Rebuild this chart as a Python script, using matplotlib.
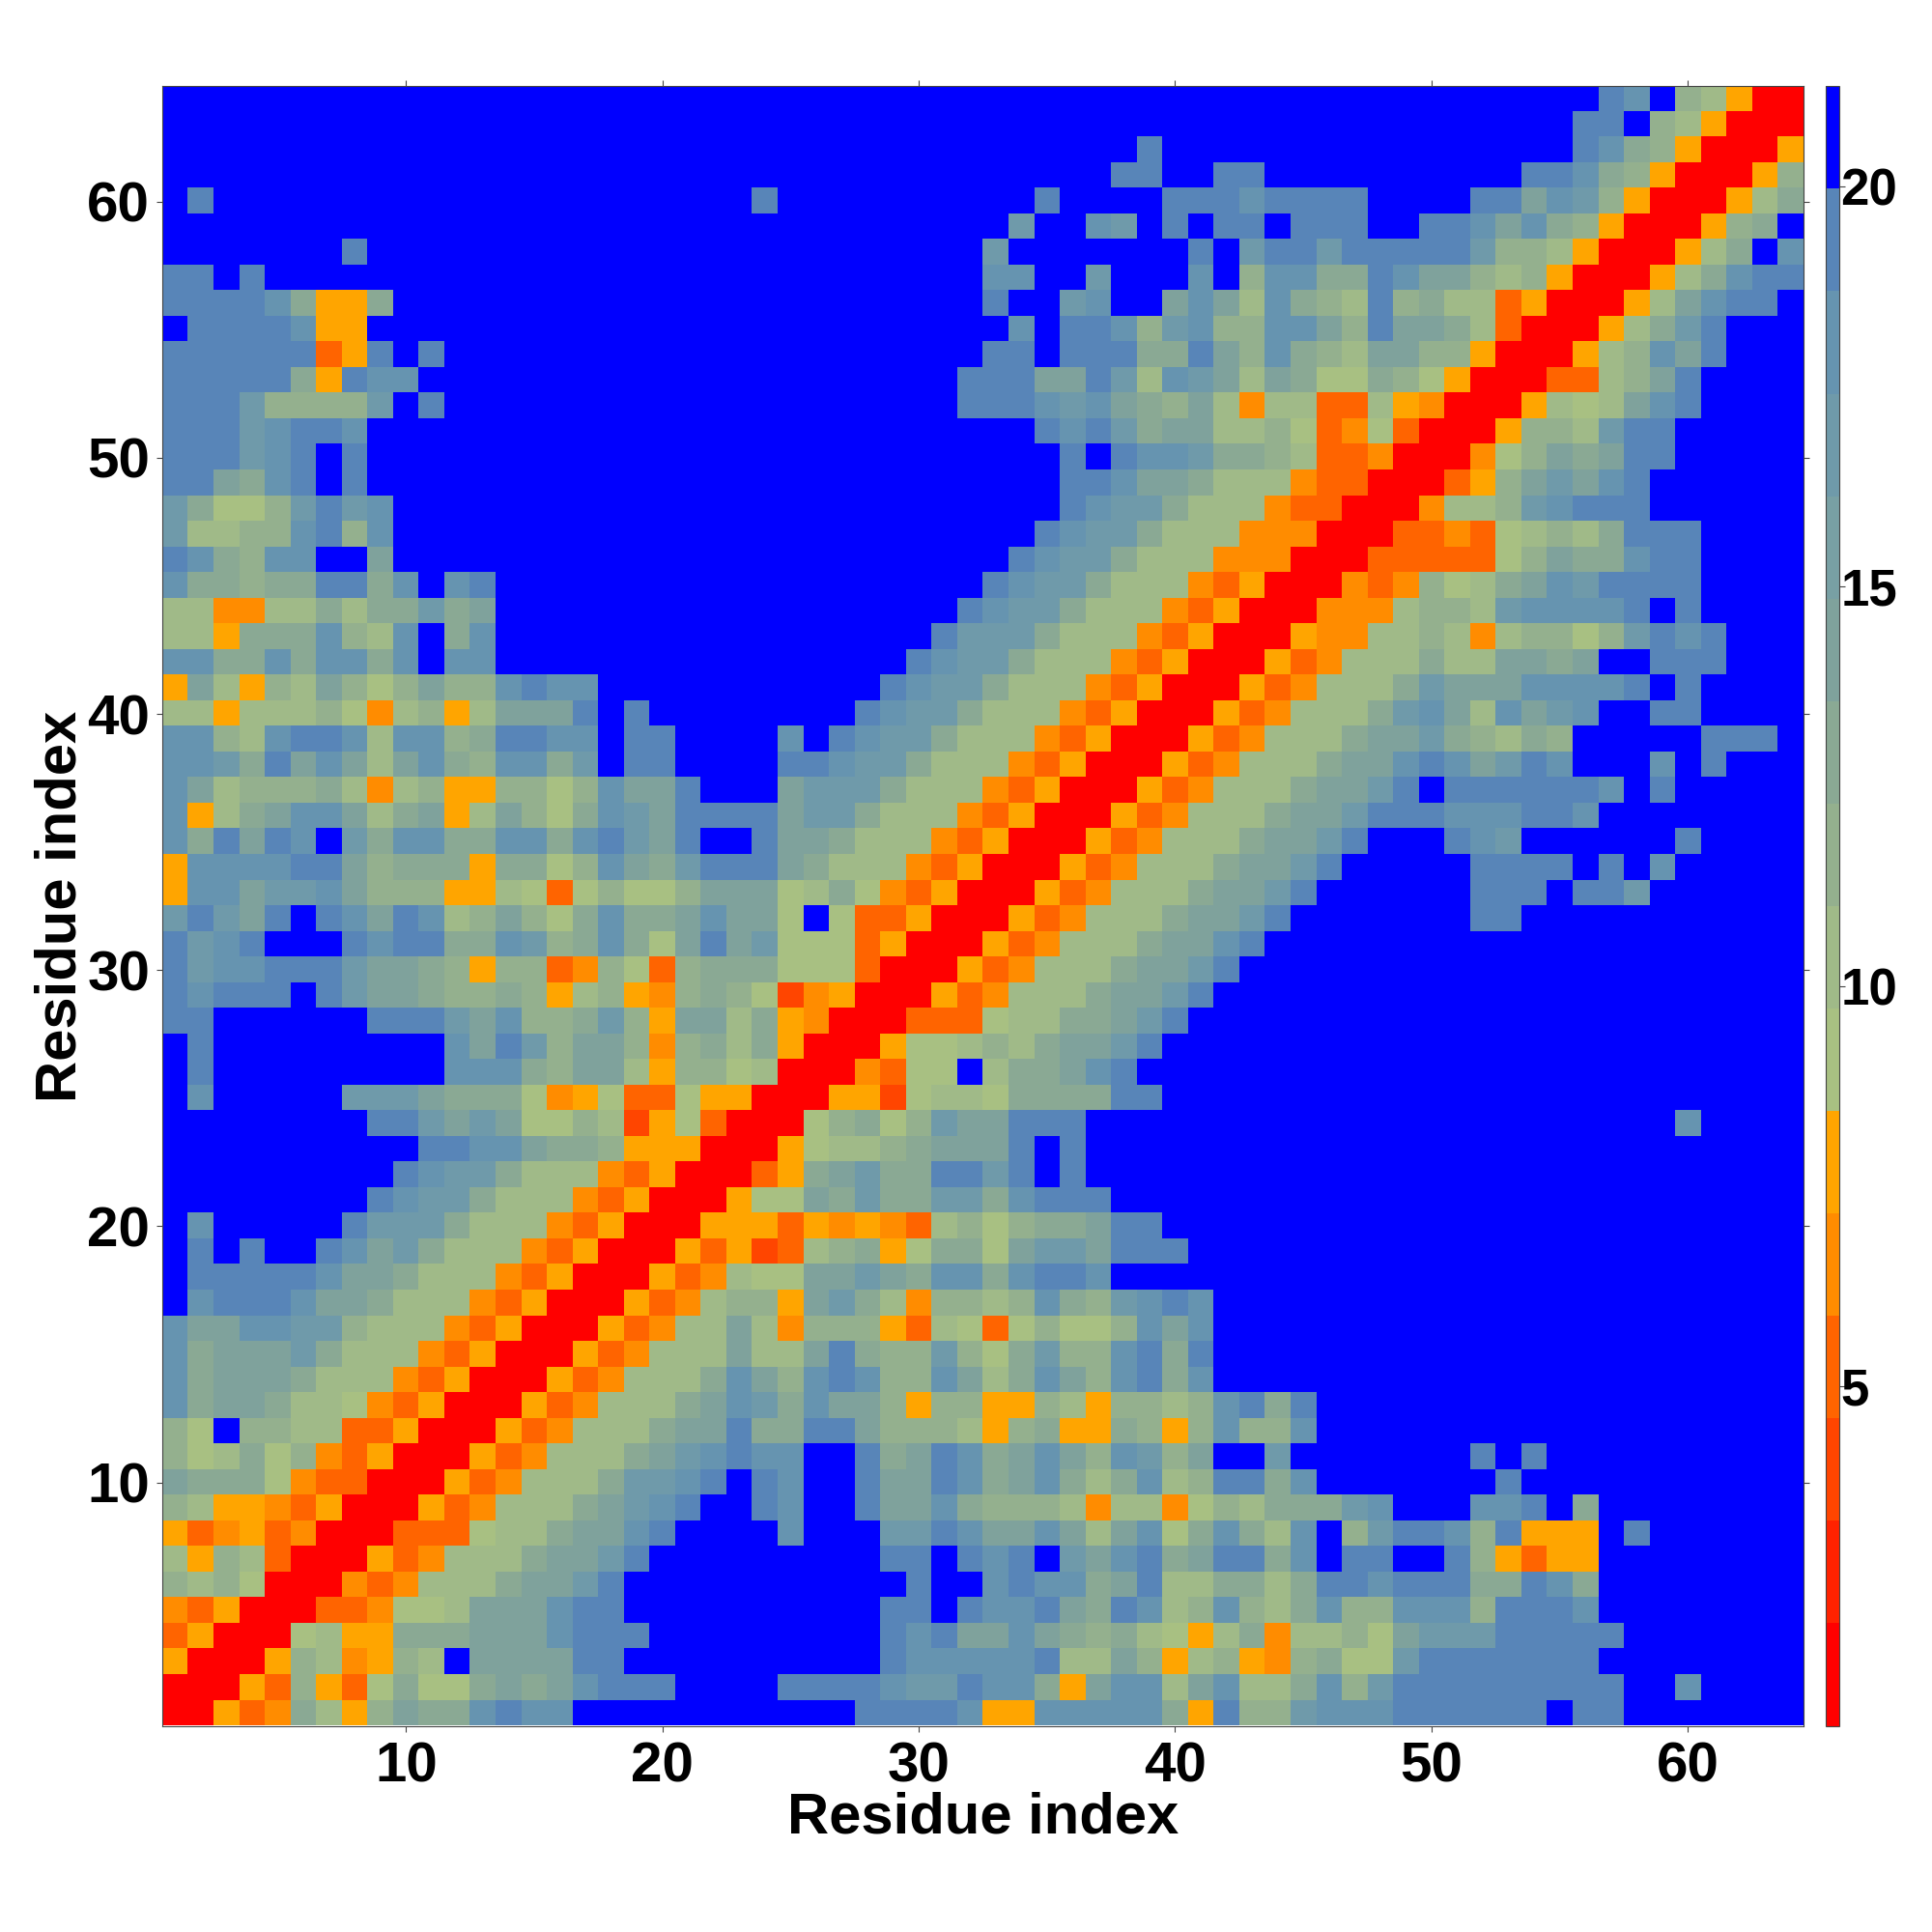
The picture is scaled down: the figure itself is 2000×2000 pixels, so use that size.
import numpy as np
import matplotlib
matplotlib.use("Agg")
import matplotlib.pyplot as plt
from matplotlib.colors import ListedColormap, BoundaryNorm

D = ".........."
# one string per row, top row (residue 64) first; groups of ten cells
rows_text = f"""
{D} {D} {D} {D} {D} ......hg.c b500
{D} {D} {D} {D} {D} .....hh.cb 5000
{D} {D} {D} ........h. {D} .....hgdc5 0005
{D} {D} {D} .......hh. .hh....... ...hhgdc50 005c
.h........ {D} ...h...... ....h....h hhghhhh... .hhegfc500 05bd
{D} {D} {D} ...f..gf.h .hh.hhh..h hgegdc5000 5cd.
.......h.. {D} {D} ..f....... h.fhhfhhhh hfccb50005 bd.g
hh.h...... {D} {D} ..gg..f... g.cggddhge ecbc50005b dghh
hhhhgd55d. {D} {D} ..h..fg..e gebgdcbhcd bb350005be ghh.
.hhhhg55.. {D} {D} ...g.hhgcf gccggechee db30005bdf h...
hhhhhh35h. h......... {D} ..hh.hhhdd hecgdcbeec c50005bcge h...
hhhhhd5hgg {D} {D} .hhheehfbg febedaadca 500033bceh ....
hhhfccccf. h......... {D} .hhhgfgedc eb4bb33b54 0005babegh ....
hhhfghhg.. {D} {D} ....hghfde ebbca34a30 005ccbfhh. ....
hhhfgh.h.. {D} {D} .....h.hgg fddcb33400 04acedehh. ....
hhedgh.h.. {D} {D} .....hhgee dbbb433000 35cefegh.. ....
fdaacfhfg. {D} {D} .....hgffd bbb4330004 bbcfghhh.. ....
fbbccghcg. {D} {D} ....hgffdb bb44400033 43abcbdhhh ....
hgdcgg..e. {D} {D} ...hgffdbb b444000333 33aceddghh ....
gddcddhhdg .gh....... {D} ..hgffdbbb 435000434c abdegfhhhh ....
bb44bbdbdd fde....... {D} .hgffdbbb4 35000444bc cbfggggh.h ....
bb5dddgcbg .dg....... {D} hfffdbbb43 5000544bbc b4bccacfhg h...
ggddgdggdg .gg....... .........h gffdbbb435 000534bbbd bbeede..hh h...
5eb5cbecac eccghgg... ........hg ffdbbb4350 00534bbbdf eeeggggh.h ....
bb5bbbca4b c5beeeh.h. .......hgf fdbbb43500 0534bbbdfg ebgefg..hh ....
ggcbghhgbg gcdhhgg.hh ....g.hgff dbbb435000 534bbbdeef dcbdc..... hhh.
ggfdhegebe gdcggdf.hh ....hhgffd bbb4350005 34bbbdeegh gefhg...g. h...
gebcccdb4b c55ccacgee h...efffdb bb43500053 4bbbdeefh. hhhhhhg.h. ....
g5bdeggebd e5becadgfe hhhheffdbb b435000534 bbbdeefhhh ggghhg.... ....
gdhehg.fdg gddggdghfe h..heedbbb 435000534b bbdeefh... hgf......h ....
5gggghhecd dd5ddacged fhhhedbbb4 35000534bb bdeefh.... .hhhh.h.g. ....
5ggeffgecc c55ba3acaa ceeeabda43 5000534bbb deefh..... .hhh.hhf.. ....
fhfeh.hgeh gbcecadgdd egeea.a335 000534bbbd eefh...... .hh....... ....
hfgh...hgh hddgfcdgda ehefaaa350 00534bbbde egh....... {D} ....
hfgghhhfee dc5cc34ca3 cdddaaa300 0534bbbdee fh........ {D} ....
hghhh.hfee dccdc5bc54 cdca245000 534bbbdeef h......... {D} ....
hh......hh hfegccdfc5 eebd540003 33abbddefh {D} {D} ....
.h........ .gehfceec4 cdbd50005a abcbdeefh. {D} {D} ....
.h........ .gggdceeb5 ccab00043a a.bddegh.. {D} {D} ....
.g.....fff eddda45a33 a55000552a bbaddddhh. {D} {D} ....
........hh fefeaacb25 a3000acdac feehhh.... {D} .........g ....
{D} hhggeddc55 50005abbcd eeeh.h.... {D} {D} ....
.........h gffdbbb435 00035defdd hhfh.h.... {D} {D} ....
........hg ffdbbb4350 005aaedfdd ffdghhh... {D} {D} ....
.g.....hff fdbbb43500 0555354543 bcacddehh. {D} {D} ....
.h.h..hgef dbbb435000 53523bcd5a ddaeffehhh {D} {D} ....
.hhhhhgeed bbb4350005 34baaeefed ggdghhg... {D} {D} ....
.ghhhgeedb bb43500053 4bcc5efdb4 ccbcgdcfgh g......... {D} ....
geeggffcbb b435000534 bbeb4ccc53 ba3acaacge g......... {D} ....
gdeeefdbbb 435000534b bbebbehdcc fcadfccghd h......... {D} ....
gdeeedbbb4 35000534bb bdgecghgcc gebdgecghd g......... {D} ....
gdeedbba43 5000534bbb degfdgeec5 cc55cb5ccb cghdh..... {D} ....
ca.ccbb335 000534bbbd eehddhhecc cb5cd55dc5 cgccg..... {D} ....
cabdac4350 00534bbbde fghgg..hde hgdegecgfc e..f...... .h.h...... ....
eddda43300 0534bbbdff gh.hg..hee hgdegdbdgb chhdg..... ..h....... ....
cb55435000 534bbbdefg h..hg..hee gdcccb4bb4 acbdddfg.. .ggh.d.... ....
5345340003 33abbdeegh ....g...ff hgeegebega dgdbg.cfhh gch555.h.. ....
b5cb300053 4bbbdeefh. ........hh .hgh.feghd ehhdg.hh.. hc5355.... ....
cbca000434 bbbdeefh.. .........h ..ghggdehb bddbdhhghh hddhgd.... ....
435000334a abeeeghh.. ........hh .hgghedhgb cgcbdgccgg gchhhg.... ....
35000ab55d ddeeeghhh. ........hg heegedcdba 5bd4bbcaef ffhhhhh... ....
50005cb45c b.eeeehh.. ........hg gggghbbec5 bc54cdaafh hhhhhh.... ....
00053c53ad aadedeghhh ....hhhhgf fhggd5eggb egbbdgcfhh hhhhhhh..g ....
00534db5ce ddghgg.... .......hhh hg55gggggd 5hccfggghh hhhh.hh... ....
"""

level_of = {"0": 0, "1": 1, "2": 2, "3": 3, "4": 4, "5": 5,
            "a": 6, "b": 7, "c": 8, "d": 9, "e": 10, "f": 12, "g": 13, "h": 14, ".": 15}
band_colors = ["#ff0000", "#ff2200", "#ff4500", "#ff6400", "#ff8c00", "#ffa500",
               "#a8c082", "#a0ba88", "#94b08e", "#8aa994", "#7fa29c", "#78a0a4",
               "#6f9aaa", "#6694b0", "#5885b8", "#0000ff"]
band_edges = 0.75 + 1.28125 * np.arange(17)
residue_ticks = [10, 20, 30, 40, 50, 60]
bar_ticks = [5, 10, 15, 20]

rows = [line.replace(" ", "") for line in rows_text.strip().splitlines()]
for n, r in enumerate(rows):
    assert len(r) == 64, (64 - n, len(r))
assert len(rows) == 64
centers = (band_edges[:-1] + band_edges[1:]) / 2
values = np.array([[centers[level_of[ch]] for ch in r] for r in rows[::-1]])

plt.rcParams["font.family"] = ["Liberation Sans", "DejaVu Sans"]
plt.rcParams["font.weight"] = "bold"
fig = plt.figure(figsize=(20, 20), dpi=100)
ax = fig.add_axes([168.3 / 2000, 1 - 1786.5 / 2000, 1698.2 / 2000, 1697.2 / 2000])
cmap = ListedColormap(band_colors)
norm = BoundaryNorm(band_edges, cmap.N)
im = ax.imshow(values, origin="lower", extent=(0.5, 64.5, 0.5, 64.5), cmap=cmap, norm=norm,
               interpolation="nearest", aspect="auto")
ax.set_xticks(residue_ticks)
ax.set_yticks(residue_ticks)
ax.tick_params(axis="both", which="major", top=True, right=True, length=4.5, width=0.8,
               color="#444444", labelsize=42, pad=5)
ax.tick_params(axis="x", pad=7)
for s in ax.spines.values():
    s.set_linewidth(0.8)
    s.set_color("#444444")
for lab in ax.get_xticklabels() + ax.get_yticklabels():
    lab.set_fontweight("bold")
ax.set_xlabel("Residue index", fontsize=43, fontweight="bold")
ax.set_ylabel("Residue index", fontsize=43, fontweight="bold")
ax.xaxis.set_label_coords(0.5, -0.040)
ax.yaxis.set_label_coords(-0.046, 0.5)

cax = fig.add_axes([1890 / 2000, 1 - 1786.5 / 2000, 13.5 / 2000, 1697.2 / 2000])
cb = fig.colorbar(im, cax=cax, boundaries=band_edges, spacing="proportional", ticks=bar_ticks)
cb.ax.minorticks_off()
cb.ax.tick_params(length=4.5, width=0.8, color="#444444", labelsize=38, pad=-3)
cb.outline.set_linewidth(0.8)
cb.outline.set_edgecolor("#444444")
for lab in cb.ax.get_yticklabels():
    lab.set_fontweight("bold")
fig.savefig("out.png", dpi=100, facecolor="white")
